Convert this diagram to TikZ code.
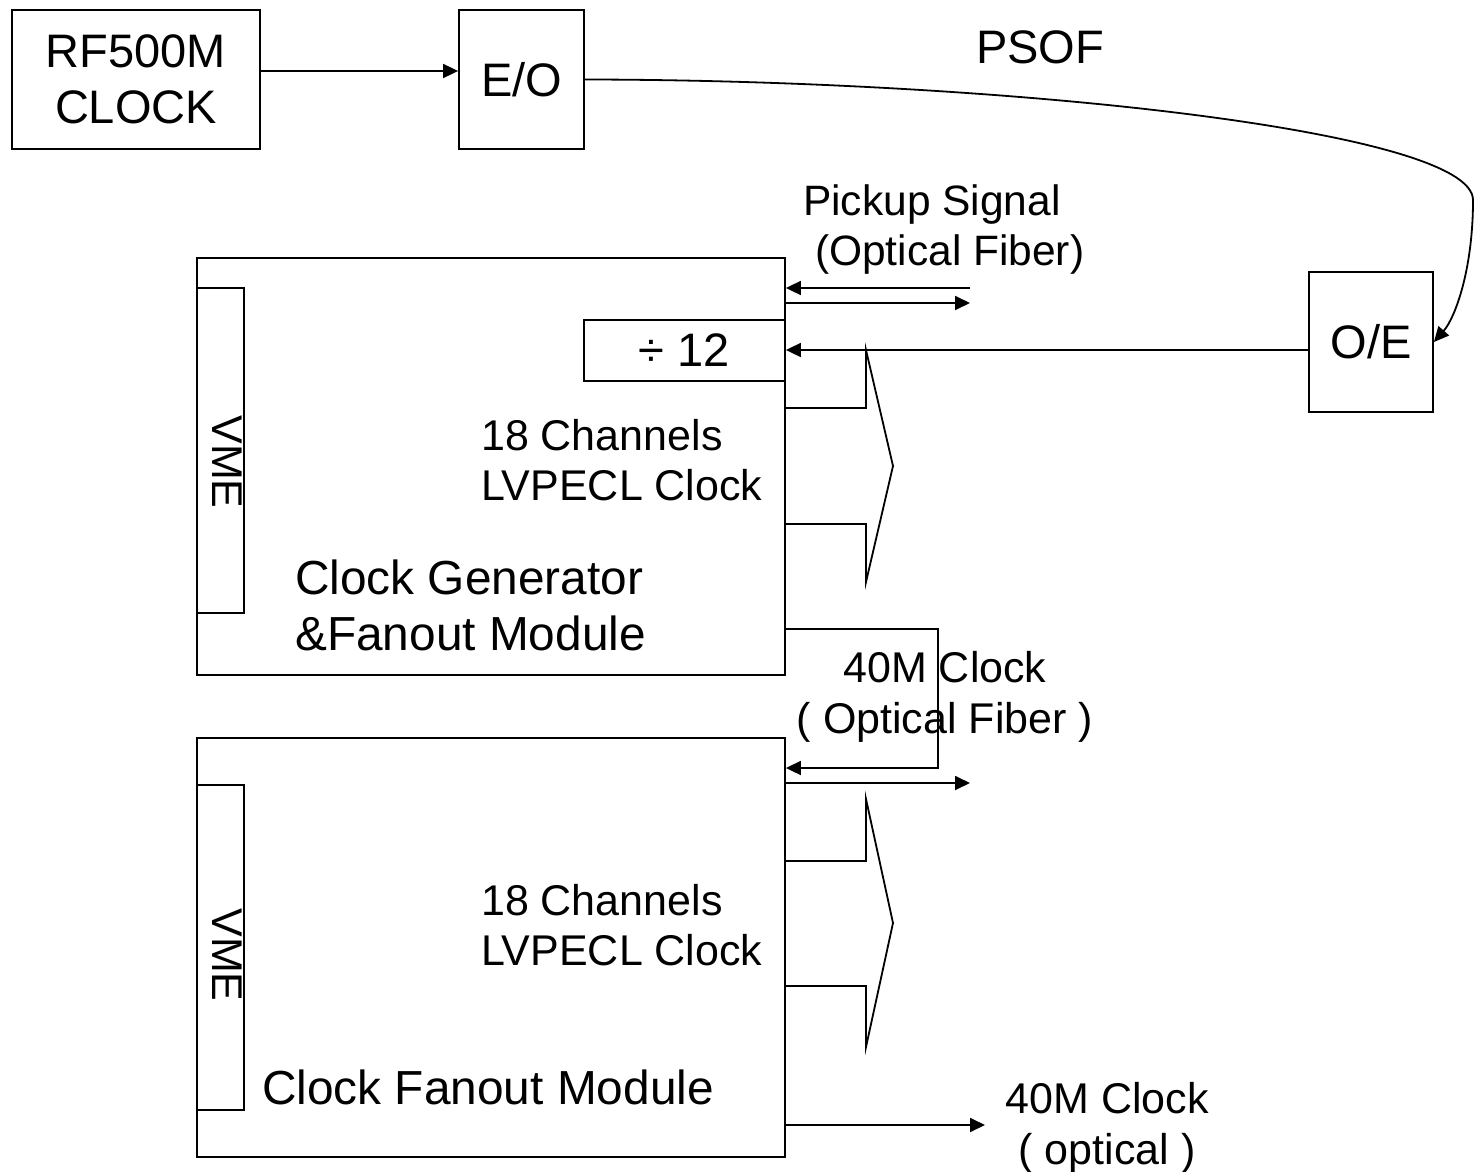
\documentclass[tikz,border=0pt]{standalone}
\usepackage{fontspec}
\setmainfont{Liberation Sans}
\usepackage{graphicx}
\usetikzlibrary{arrows.meta}
\newcommand\BigF{\fontsize{47}{56}\selectfont}
\newcommand\GenF{\fontsize{47.8}{56}\selectfont}
\newcommand\MidF{\fontsize{43}{50}\selectfont}
\newcommand\PkF{\fontsize{42.5}{50}\selectfont}
\newcommand\ClkF{\fontsize{43}{51}\selectfont}
\begin{document}
\begin{tikzpicture}[x=1pt,y=-1pt,
  blk/.style={draw, line width=1.8pt, inner sep=0pt, align=center},
  lbl/.style={inner sep=0pt, align=center},
  arr/.style={line width=1.8pt, -{Triangle[length=15pt,width=14pt]}},
  ln/.style={line width=1.8pt},
  line join=miter]
\useasboundingbox (0,0) rectangle (1475,1172);

% top row
\node[blk, minimum width=248pt, minimum height=139pt, font=\BigF] (rf) at (136,79.5) {RF500M\\CLOCK};
\node[blk, minimum width=125pt, minimum height=139pt, font=\BigF] (eo) at (521.5,79.5) {E/O};
\node[lbl, font=\BigF] (psof) at (1040,47) {PSOF};
\node[blk, minimum width=124pt, minimum height=140pt, font=\BigF] (oe) at (1371,342) {O/E};

% modules
\node[blk, minimum width=588pt, minimum height=417pt] (m1) at (491,466.5) {};
\node[blk, minimum width=588pt, minimum height=419pt] (m2) at (491,947.5) {};
\node[blk, minimum width=47pt, minimum height=325pt] (vb1) at (220.5,450.5) {};
\node[blk, minimum width=47pt, minimum height=325pt] (vb2) at (220.5,947.5) {};
\node[lbl, font=\MidF] (v1) at (227,462) {\rotatebox{-90}{VME}};
\node[lbl, font=\MidF] (v2) at (227,955) {\rotatebox{-90}{VME}};
\node[blk, minimum width=201pt, minimum height=61pt, font=\BigF] (div) at (684.5,350.5) {÷ 12};

% texts
\node[lbl, anchor=west, align=left, font=\PkF] (pk) at (803,229.5) {Pickup Signal\\\hspace*{0.28em}(Optical Fiber)};
\node[lbl, anchor=west, align=left, font=\MidF] (ch1) at (481,460) {18 Channels\\LVPECL Clock};
\node[lbl, anchor=west, align=left, font=\GenF] (gen) at (295,605) {Clock Generator\\\&Fanout Module};
\node[lbl, anchor=west, align=left, font=\MidF] (ch2) at (481,925) {18 Channels\\LVPECL Clock};
\node[lbl, anchor=west, font=\GenF] (fan) at (262,1087) {Clock Fanout Module};
\node[lbl, font=\ClkF] (c40a) at (945,697) {40M Clock\\( Optical Fiber )};
\node[lbl, font=\ClkF] (c40b) at (1107,1128) {40M Clock\\( optical )};

% connectors
\draw[arr] ([yshift=8.5pt]rf.east) -- ([yshift=8.5pt]eo.west);
\draw[arr] (eo.east) .. controls (1000,80) and (1473,130) .. (1473,200)
                     .. controls (1473,270) and (1455,318) .. (oe.east);
\coordinate (pkin) at (970,288);
\coordinate (pkout) at (970,303);
\draw[arr] (pkin) -- (pkin -| m1.east);
\draw[arr] (pkout -| m1.east) -- (pkout);
\draw[arr] ([yshift=-8pt]oe.west) -- ([yshift=-8pt]oe.west -| div.east);

% fanout wedges
\draw[ln] (785,408) -- (866,408) -- (866,350) -- (893,466) -- (866,582) -- (866,524) -- (785,524);
\draw[ln] (785,861) -- (866,861) -- (866,799) -- (893,923) -- (866,1047) -- (866,986) -- (785,986);

% 40M loop and outputs
\coordinate (lpa) at (938,629);
\coordinate (lpb) at (938,768);
\draw[arr] (m1.east |- lpa) -- (lpa) -- (lpb) -- (m2.east |- lpb);
\coordinate (o1) at (970,783);
\draw[arr] (m2.east |- o1) -- (o1);
\coordinate (o2) at (985,1125);
\draw[arr] (m2.east |- o2) -- (o2);
\end{tikzpicture}
\end{document}
